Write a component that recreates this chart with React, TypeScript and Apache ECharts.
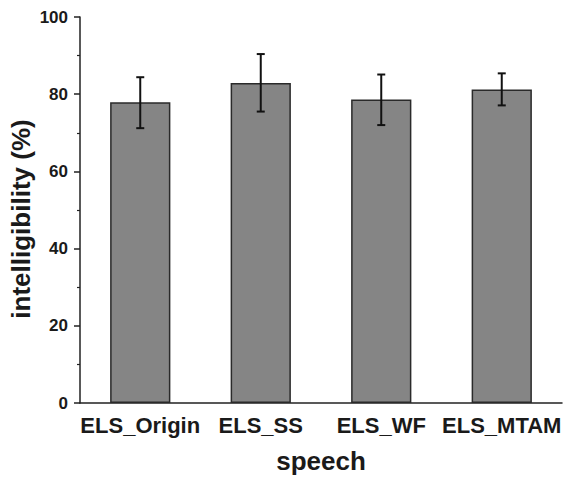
import React, { useEffect, useRef } from "react";
import * as echarts from "echarts";

const categories = ["ELS_Origin", "ELS_SS", "ELS_WF", "ELS_MTAM"];
const meanValues = [77.9, 82.9, 78.6, 81.2];
const errLow = [71.2, 75.5, 72.0, 77.1];
const errHigh = [84.4, 90.4, 85.1, 85.4];
const yTicks = [0, 20, 40, 60, 80, 100];
const xTitle = "speech";
const yTitle = "intelligibility (%)";

export default function App() {
  const ref = useRef<HTMLDivElement>(null);
  useEffect(() => {
    if (!ref.current) return;
    const chart = echarts.init(ref.current, null, { renderer: "svg" });
    const font = "'Liberation Sans', Arial, sans-serif";
    const errData = categories.map((c, i) => [i, errLow[i], errHigh[i]]);
    chart.setOption({
      animation: false,
      backgroundColor: "#ffffff",
      grid: { left: 80, right: 1, top: 17, bottom: 76, containLabel: false, outerBoundsMode: "none" },
      graphic: [
        {
          type: "text",
          x: 21,
          y: 219,
          rotation: Math.PI / 2,
          style: {
            text: yTitle,
            fontFamily: font,
            fontWeight: "bold",
            fontSize: 26,
            fill: "#1a1a1a",
            align: "center",
            verticalAlign: "middle",
          },
        },
      ],
      xAxis: {
        type: "category",
        data: categories,
        boundaryGap: true,
        name: xTitle,
        nameLocation: "middle",
        nameGap: 45,
        nameTextStyle: { fontFamily: font, fontWeight: "bold", fontSize: 26, color: "#1a1a1a" },
        axisLine: { lineStyle: { color: "#222", width: 1.5 } },
        axisTick: { alignWithLabel: true, length: 5, lineStyle: { color: "#222", width: 1.5 } },
        axisLabel: {
          fontFamily: font, fontWeight: "bold", fontSize: 22, color: "#1a1a1a", margin: 11, interval: 0,
          overflow: "none", hideOverlap: false,
        },
      },
      yAxis: {
        type: "value",
        min: 0,
        max: 100,
        interval: 20,
        axisLine: { show: true, lineStyle: { color: "#222", width: 1.5 } },
        axisTick: { show: true, length: 6, lineStyle: { color: "#222", width: 1.5 } },
        minorTick: { show: true, splitNumber: 2, length: 3, lineStyle: { color: "#222", width: 1.2 } },
        splitLine: { show: false },
        axisLabel: {
          fontFamily: font, fontWeight: "bold", fontSize: 17, color: "#1a1a1a", margin: 12,
          formatter: (v: number) => (yTicks.includes(v) ? String(v) : ""),
        },
      },
      series: [
        {
          type: "bar",
          data: meanValues,
          barWidth: "50%",
          itemStyle: { color: "#858585", borderColor: "#2a2a2a", borderWidth: 1.5 },
        },
        {
          type: "custom",
          data: errData,
          z: 10,
          renderItem: (params: any, api: any) => {
            const x = api.value(0);
            const lo = api.coord([x, api.value(1)]);
            const hi = api.coord([x, api.value(2)]);
            const hw = 4;
            const style = { stroke: "#111", lineWidth: 2 };
            return {
              type: "group",
              children: [
                { type: "line", shape: { x1: hi[0], y1: hi[1], x2: lo[0], y2: lo[1] }, style },
                { type: "line", shape: { x1: hi[0] - hw, y1: hi[1], x2: hi[0] + hw, y2: hi[1] }, style },
                { type: "line", shape: { x1: lo[0] - hw, y1: lo[1], x2: lo[0] + hw, y2: lo[1] }, style },
              ],
            };
          },
        },
      ],
    });
    return () => chart.dispose();
  }, []);
  return <div ref={ref} style={{ position: "fixed", left: 0, top: 0, width: 563, height: 479 }} />;
}
